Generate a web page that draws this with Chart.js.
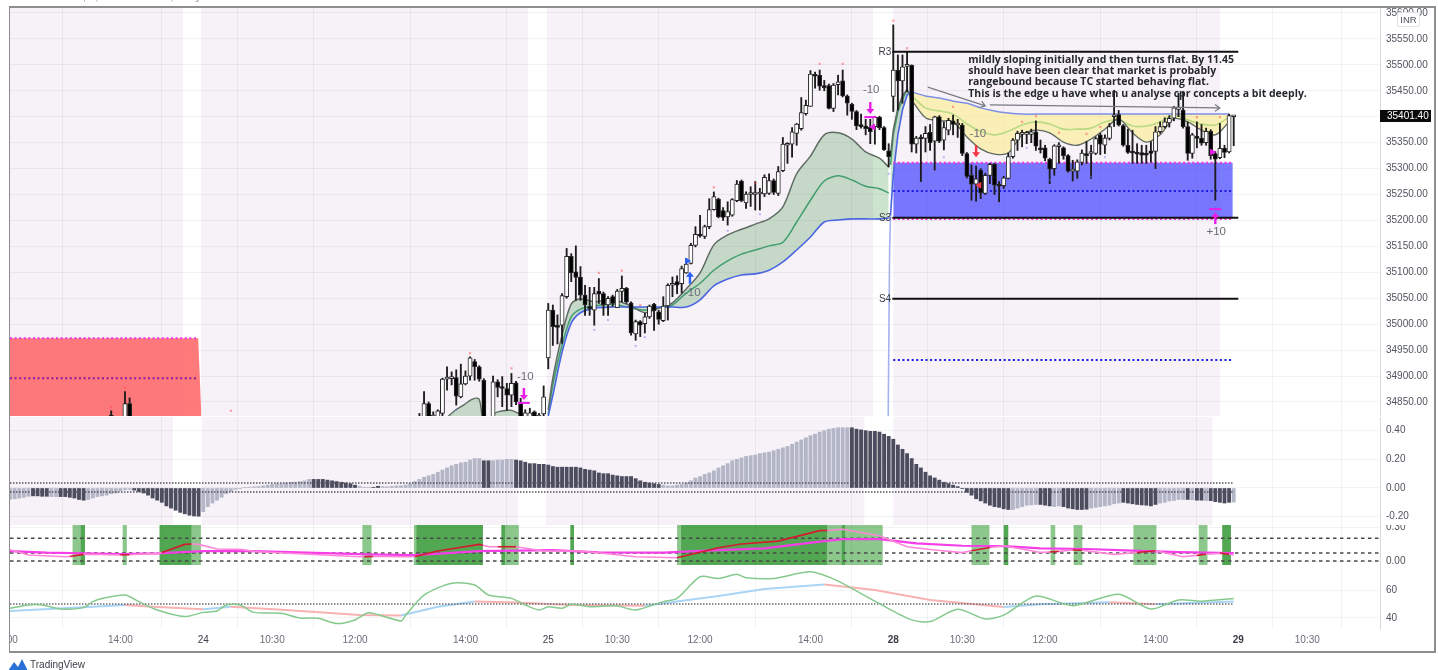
<!DOCTYPE html>
<html>
<head>
<meta charset="utf-8">
<title>BankNifty 5m</title>
<script src="https://cdn.jsdelivr.net/npm/chart.js@4/dist/chart.umd.min.js"></script>
<style>
    html, body { margin: 0; background: #fff; overflow: hidden; width: 1438px; height: 670px; }
    canvas { position: absolute; left: 10px; filter: blur(0.55px); }
    #frame { position: absolute; left: 9px; top: 6px; width: 1424px; height: 643px; border: 2px solid #8e8e8e; border-left-width: 1px; pointer-events: none; }
    #header { position: absolute; left: 12px; top: -10px; font: 11px "Liberation Sans", sans-serif; color: #8a8d96; white-space: nowrap; filter: blur(0.5px); }
    #header span { color: #f08a8a; }
    #inr { position: absolute; left: 1397px; top: 12px; width: 21px; height: 13px; background: #fff; border: 1px solid #e0e3eb; border-radius: 2px; font: 9.5px/13px "Liberation Sans", sans-serif; text-align: center; color: #50535e; filter: blur(0.4px); }
    #brand { position: absolute; left: 8px; top: 658px; height: 12px; font: 10px/13px "Liberation Sans", sans-serif; color: #3a3d46; filter: blur(0.4px); }
    #brand svg { position: absolute; left: 0; top: 1px; }
    #brand b { position: absolute; left: 22px; font-weight: normal; white-space: nowrap; }
</style>
</head>
<body>
<div id="header">BANKNIFTY1!, 5, NSE &nbsp;0 &nbsp;Close, Daily <span>O35400.00 H35402.00 L35344.00 C35401.40</span></div>
<canvas id="priceChart" width="1425" height="409" style="top:7px"></canvas>
<canvas id="histChart" width="1425" height="108" style="top:417px"></canvas>
<canvas id="stochChart" width="1425" height="40" style="top:525px"></canvas>
<canvas id="rsiChart" width="1425" height="86" style="top:565px"></canvas>
<div id="inr">INR</div>
<div id="frame"></div>
<div id="brand">
    <svg width="20" height="12" viewBox="0 0 20 12"><path d="M0 12 L6 3 L10 8 L14 0 L20 12 Z" fill="#2a6fd6"/></svg>
    <b>TradingView</b>
</div>

<script>
const tickBars = [-1, 24, 42, 57, 75, 99, 117, 132, 150, 174, 192, 207, 225, 249, 267, 282];
const tickLabels = ['12:00', '14:00', '24', '10:30', '12:00', '14:00', '25', '10:30', '12:00', '14:00', '28', '10:30', '12:00', '14:00', '29', '10:30'];
const priceTicks = [34850, 34900, 34950, 35000, 35050, 35100, 35150, 35200, 35250, 35300, 35350, 35400, 35450, 35500, 35550, 35600];
const histTicks = [-0.2, 0, 0.2, 0.4];
const stochTicks = [0, 0.3];
const rsiTicks = [40, 60];
const lastPrice = 35401.40;

const earlyBars = [22, 25, 26];
const earlyOpen = [34825, 34800, 34847];
const earlyHigh = [34833, 34870, 34858];
const earlyLow = [34790, 34790, 34790];
const earlyClose = [34810, 34847, 34800];

// bars 89 to 116
const open24 = [34800, 34800, 34847, 34815, 34800, 34828, 34894, 34895, 34897, 34860, 34885, 34900, 34928, 34918, 34892, 34790, 34810, 34889, 34879, 34876, 34863, 34887, 34847, 34810, 34815, 34831, 34815, 34827];
const high24 = [34828, 34870, 34850, 34831, 34835, 34896, 34918, 34908, 34912, 34923, 34910, 34937, 34932, 34920, 34895, 34800, 34900, 34893, 34899, 34886, 34905, 34890, 34857, 34835, 34838, 34833, 34828, 34881];
const low24 = [34790, 34790, 34790, 34790, 34790, 34815, 34873, 34883, 34844, 34858, 34883, 34892, 34892, 34890, 34790, 34770, 34800, 34860, 34841, 34834, 34841, 34845, 34810, 34805, 34810, 34810, 34810, 34815];
const close24 = [34815, 34847, 34800, 34825, 34833, 34894, 34896, 34896, 34861, 34885, 34900, 34935, 34918, 34894, 34800, 34780, 34889, 34878, 34876, 34863, 34886, 34850, 34815, 34829, 34829, 34815, 34825, 34860];

// bars 117 to 191
const open25 = [34935, 35027, 34998, 34998, 35053, 35131, 35101, 35091, 35056, 35034, 35027, 35064, 35059, 35037, 35053, 35032, 35063, 35069, 35041, 34981, 35005, 35001, 35014, 35039, 35024, 35007, 35035, 35075, 35082, 35078, 35099, 35117, 35152, 35172, 35169, 35188, 35221, 35241, 35219, 35207, 35210, 35238, 35276, 35234, 35250, 35250, 35251, 35251, 35252, 35277, 35252, 35296, 35345, 35347, 35368, 35377, 35406, 35420, 35481, 35480, 35459, 35460, 35416, 35462, 35469, 35440, 35424, 35410, 35383, 35382, 35380, 35381, 35399, 35379, 35334];
const high25 = [35040, 35037, 35018, 35059, 35146, 35136, 35151, 35111, 35075, 35071, 35071, 35088, 35062, 35053, 35056, 35067, 35093, 35071, 35043, 35008, 35007, 35021, 35037, 35040, 35027, 35053, 35078, 35091, 35093, 35112, 35127, 35156, 35188, 35210, 35191, 35242, 35255, 35243, 35225, 35236, 35242, 35277, 35278, 35255, 35265, 35275, 35262, 35288, 35290, 35280, 35304, 35360, 35350, 35379, 35387, 35437, 35432, 35489, 35486, 35490, 35470, 35463, 35464, 35480, 35490, 35442, 35426, 35412, 35405, 35395, 35395, 35401, 35401, 35381, 35348];
const low25 = [34914, 34959, 34962, 34963, 35050, 35082, 35046, 35046, 35017, 35017, 34998, 35040, 35017, 35017, 35034, 35032, 35043, 35040, 34979, 34969, 34976, 34983, 35011, 34988, 35000, 35005, 35008, 35053, 35059, 35060, 35098, 35116, 35149, 35168, 35165, 35184, 35220, 35205, 35200, 35191, 35208, 35236, 35236, 35223, 35227, 35220, 35220, 35246, 35250, 35250, 35248, 35294, 35310, 35322, 35345, 35374, 35403, 35420, 35455, 35451, 35450, 35415, 35410, 35442, 35438, 35403, 35395, 35375, 35378, 35365, 35348, 35347, 35375, 35335, 35303];
const close25 = [35027, 34995, 34994, 35055, 35131, 35099, 35090, 35056, 35037, 35030, 35059, 35058, 35037, 35050, 35040, 35064, 35069, 35043, 34983, 35005, 34998, 35014, 35035, 35026, 35009, 35035, 35075, 35078, 35075, 35107, 35116, 35152, 35173, 35170, 35188, 35221, 35246, 35207, 35206, 35217, 35240, 35270, 35238, 35251, 35253, 35253, 35253, 35283, 35277, 35254, 35294, 35347, 35348, 35371, 35386, 35408, 35422, 35482, 35478, 35459, 35456, 35416, 35461, 35467, 35440, 35426, 35410, 35382, 35381, 35377, 35371, 35399, 35379, 35336, 35323];

// bars 192 to 266
const open28 = [35439, 35490, 35469, 35497, 35499, 35347, 35359, 35358, 35370, 35353, 35400, 35355, 35374, 35392, 35384, 35384, 35329, 35287, 35270, 35297, 35252, 35287, 35308, 35268, 35267, 35281, 35323, 35355, 35366, 35366, 35366, 35371, 35340, 35340, 35318, 35300, 35342, 35340, 35325, 35295, 35295, 35312, 35329, 35329, 35329, 35365, 35345, 35358, 35400, 35404, 35383, 35345, 35332, 35331, 35331, 35330, 35334, 35333, 35371, 35381, 35388, 35397, 35414, 35413, 35381, 35329, 35362, 35359, 35350, 35372, 35329, 35321, 35339, 35332, 35400];
const high28 = [35577, 35519, 35519, 35524, 35500, 35362, 35365, 35381, 35385, 35401, 35402, 35390, 35397, 35403, 35395, 35387, 35331, 35307, 35305, 35300, 35291, 35310, 35310, 35275, 35285, 35330, 35358, 35372, 35374, 35372, 35376, 35392, 35355, 35345, 35320, 35346, 35350, 35342, 35327, 35316, 35317, 35336, 35352, 35345, 35361, 35368, 35365, 35387, 35451, 35412, 35385, 35376, 35374, 35348, 35345, 35345, 35352, 35381, 35390, 35398, 35402, 35420, 35445, 35448, 35390, 35368, 35390, 35385, 35378, 35375, 35333, 35387, 35345, 35405, 35402];
const low28 = [35410, 35413, 35426, 35448, 35332, 35330, 35275, 35332, 35335, 35297, 35350, 35336, 35365, 35365, 35360, 35325, 35282, 35239, 35237, 35242, 35250, 35271, 35250, 35236, 35262, 35280, 35320, 35335, 35342, 35348, 35350, 35335, 35330, 35315, 35271, 35287, 35310, 35318, 35293, 35276, 35281, 35307, 35310, 35281, 35327, 35327, 35329, 35355, 35381, 35382, 35343, 35329, 35310, 35310, 35310, 35310, 35312, 35300, 35368, 35378, 35380, 35392, 35400, 35378, 35316, 35320, 35340, 35345, 35345, 35318, 35239, 35319, 35321, 35330, 35344];
const close28 = [35490, 35469, 35496, 35500, 35347, 35359, 35357, 35368, 35350, 35400, 35353, 35379, 35393, 35385, 35387, 35329, 35285, 35270, 35280, 35253, 35287, 35308, 35268, 35266, 35282, 35323, 35355, 35368, 35369, 35368, 35371, 35343, 35336, 35320, 35299, 35344, 35346, 35325, 35295, 35298, 35313, 35330, 35325, 35332, 35358, 35347, 35359, 35381, 35402, 35384, 35345, 35331, 35330, 35328, 35326, 35326, 35329, 35371, 35381, 35390, 35397, 35417, 35417, 35381, 35329, 35365, 35358, 35349, 35372, 35325, 35318, 35339, 35331, 35402, 35401.40];

const humpOneBars = [95.3, 96.8, 98.6, 100.4, 101.9, 102.5, 103];
const humpOneTop = [34823, 34834, 34844, 34855, 34856, 34830, 34800];
const humpTwoBars = [104.6, 106, 108.8, 110.6, 111.7];
const humpTwoTop = [34823, 34831, 34834, 34828, 34823];

const bandBars25 = [117, 118, 120, 122, 124, 127, 131, 135, 138, 141, 144, 147, 150, 153, 156, 159, 162, 165, 168, 171, 174, 177, 180, 183, 186, 189, 191];
const upper25 = [34835, 34896, 34979, 35039, 35049, 35043, 35047, 35035, 35022, 35031, 35041, 35068, 35099, 35153, 35172, 35183, 35193, 35203, 35226, 35290, 35324, 35365, 35369, 35357, 35332, 35320, 35303];
const mid25 = [34827, 34883, 34960, 35014, 35029, 35035, 35039, 35031, 35027, 35031, 35037, 35060, 35079, 35104, 35122, 35135, 35143, 35151, 35158, 35197, 35239, 35276, 35286, 35278, 35266, 35261, 35253];
const lower25 = [34823, 34863, 34946, 35002, 35022, 35031, 35033, 35033, 35033, 35033, 35033, 35033, 35047, 35074, 35087, 35095, 35097, 35104, 35120, 35143, 35168, 35197, 35201, 35203, 35203, 35203, 35205];

const wedgeBars = [191.4, 192, 193, 194, 195, 196];
const wedgeUpper = [35326, 35374, 35417, 35440, 35453, 35432];
const wedgeMid = [35307, 35365, 35409, 35434, 35451, 35440];
const wedgeLower = [35210, 35288, 35365, 35413, 35442, 35448];
const stubBars = [190.9, 191.2, 191.4];
const stubPrices = [34823, 35143, 35210];

const bandBars28 = [196, 199, 202, 205, 208, 211, 214, 217, 220, 223, 226, 229, 232, 235, 238, 241, 244, 247, 250, 253, 256, 259, 262, 265];
const top28 = [35448, 35440, 35436, 35430, 35426, 35417, 35411, 35407, 35405, 35405, 35405, 35405, 35405, 35405, 35405, 35405, 35405, 35405, 35405, 35405, 35405, 35405, 35405, 35405];
const mid28 = [35440, 35417, 35411, 35405, 35386, 35372, 35365, 35372, 35384, 35390, 35386, 35376, 35376, 35378, 35390, 35394, 35382, 35382, 35390, 35403, 35394, 35386, 35384, 35399];
const bottom28 = [35432, 35398, 35392, 35390, 35361, 35338, 35328, 35330, 35365, 35374, 35369, 35351, 35345, 35357, 35376, 35396, 35369, 35351, 35365, 35396, 35390, 35374, 35365, 35390];

const redZoneBars = [0, 40.9, 41.6];
const redZoneTop = [34973, 34973, 34823];
const redPivotLevel = 34896;
const blueZoneBars = [192, 265.8];
const blueZoneTop = 35311;
const blueZoneBottom = 35205;
const bluePivotLevel = 35257;
const lowerPivotLevel = 34931;
const levelBars = [191.8, 267];
const r3Level = 35525;
const s3Level = 35205;
const s4Level = 35049;

const highBars = [22, 25, 48, 100, 109, 128, 133, 137, 153, 162, 176, 181, 192, 195, 205, 220, 223, 228, 234, 237, 258, 263];
const highMarks = [34840, 34877, 34833, 34944, 34915, 35099, 35103, 35037, 35264, 35272, 35502, 35502, 35585, 35532, 35419, 35390, 35401, 35369, 35367, 35380, 35399, 35399];
const lowBars = [97, 127, 130, 136, 138, 156, 163, 191, 198, 203, 215, 221, 226, 235, 238, 262];
const lowMarks = [34835, 34989, 35008, 34958, 34975, 35180, 35212, 35290, 35266, 35322, 35228, 35340, 35278, 35284, 35322, 35226];

const triangleBars = [147.2, 187.6, 210.7, 261.3];
const trianglePrices = [35122, 35380, 35268, 35332];
const triangleTurns = [90, -90, -90, 90];
const triangleColors = ['#2962ff', '#e91ee9', '#f23645', '#e91ee9'];

const arrowBars = [111.7, 187, 147.8, 210, 262];
const arrowTips = [34854, 35405, 35101, 35322, 35216];
const arrowDirs = [-1, -1, 1, -1, 1];
const arrowColors = ['#e91ee9', '#e91ee9', '#2962ff', '#f23645', '#e91ee9'];
const arrowFeet = [true, true, false, false, true];

const signalLabelBars = [112, 148.3, 187.2, 210.4, 262.2];
const signalLabelPrices = [34898, 35060, 35451, 35367, 35178];
const signalLabelTexts = ['-10', '-10', '-10', '-10', '+10'];

const pivotLabelBars = [190.2, 190.2, 190.2];
const pivotLabelPrices = [35525, 35205, 35049];
const pivotLabelTexts = ['R3', 'S3', 'S4'];

const noteBar = 208.3;
const notePrices = [35509, 35488, 35467, 35444];
const noteLines = [
    'mildly sloping initially and then turns flat. By 11.45',
    'should have been clear that market is probably',
    'rangebound because TC started behaving flat.',
    'This is the edge u have when u analyse cpr concepts a bit deeply.'
];
const trendBars = [[199.5, 212], [213, 263]];
const trendPrices = [[35457, 35421], [35423, 35417]];

const priceShade = [[0, 37.6], [41.5, 112.6], [116.7, 187.6], [192, 263]];
const histShade = [[0, 35.4], [41.7, 110.4], [116.5, 185.7], [192, 261.4]];

const histValues = [
    -.08, -.075, -.07, -.065, -.058, -.055, -.055, -.058, -.058, -.06,
    -.06, -.06, -.06, -.065, -.07, -.08, -.085, -.08, -.07, -.06,
    -.055, -.05, -.04, -.035, -.02, -.012, -.01, -.015, -.025, -.035,
    -.05, -.07, -.085, -.1, -.125, -.14, -.155, -.17, -.18, -.19,
    -.195, -.197, -.165, -.13, -.105, -.085, -.065, -.04, -.025, -.01,
    -.005, .002, .005, .008, .01, .015, .02, .025, .03, .03,
    .035, .04, .04, .045, .05, .06, .06, .06, .06, .055,
    .05, .045, .04, .035, .03, .02, .012, .005, .002, .005,
    .012, .01, .008, .012, .015, .015, .02, .03, .045, .06,
    .075, .085, .095, .11, .125, .14, .155, .165, .175, .18,
    .195, .205, .205, .19, .19, .19, .195, .195, .2, .2,
    .195, .19, .18, .17, .17, .165, .165, .16, .15, .145,
    .145, .145, .145, .145, .14, .13, .125, .12, .105, .1,
    .1, .09, .085, .08, .08, .08, .065, .05, .04, .035,
    .03, .025, .02, .015, .015, .02, .025, .035, .05, .07,
    .08, .095, .105, .12, .14, .155, .17, .19, .2, .21,
    .22, .225, .23, .24, .245, .25, .26, .27, .28, .29,
    .305, .32, .335, .35, .365, .375, .39, .4, .41, .415,
    .42, .42, .42, .42, .41, .405, .4, .395, .395, .39,
    .375, .36, .34, .3, .27, .24, .205, .165, .14, .11,
    .085, .07, .055, .04, .03, .02, .01, -.005, -.03, -.05,
    -.075, -.09, -.105, -.12, -.13, -.135, -.145, -.15, -.15, -.14,
    -.13, -.12, -.118, -.115, -.115, -.12, -.125, -.13, -.125, -.13,
    -.14, -.145, -.15, -.15, -.148, -.14, -.135, -.13, -.125, -.12,
    -.11, -.105, -.1, -.105, -.11, -.115, -.118, -.12, -.125, -.115,
    -.105, -.1, -.09, -.087, -.08, -.08, -.08, -.082, -.085, -.085,
    -.087, -.088, -.095, -.1, -.105, -.1, -.098
];
const histDarkRuns = [[5, 8], [11, 16], [27, 41], [66, 75], [79, 80], [103, 104], [110, 141], [183, 217], [224, 226], [229, 234], [242, 249], [256, 256], [258, 259], [261, 265]];
const histUpperLevel = 0.035;
const histLowerLevel = -0.028;
const levelEndBars = [0, 266];

const darkZones = [[15.3, 16.3], [32.5, 39.5], [88.3, 102.8], [106.8, 107.6], [121.8, 122.6], [145.8, 177.7], [180.7, 181.6], [216, 217], [263.5, 265.4]];
const lightZones = [[13.6, 15.3], [24.5, 25.4], [39.5, 41.5], [76.6, 78.6], [87.8, 88.3], [107.6, 110.6], [145, 145.8], [177.7, 180.7], [181.6, 189.7], [209, 212.9], [226.2, 227.2], [231.2, 233.1], [244.2, 249.2], [258.4, 260.3]];
const redRuns = [[13, 16], [24, 26], [33, 39.5], [77, 79], [88, 102.8], [106, 110], [145, 177.7], [209, 213], [226, 228], [231, 233], [245, 249], [258, 260], [263, 265]];
const dashedLevels = [0.2, 0.07, 0];
const dashedBars = [0, 297.8];

const fastBars = [0, 4, 12, 13, 16, 17, 24, 26, 32, 33, 38, 39.5, 41, 45, 50, 54, 76, 77, 79, 87, 88, 93, 102, 102.8, 104, 106, 110, 116, 124, 136, 145, 154, 159, 167, 176, 177.7, 181, 189, 195, 201, 207, 209, 213, 216, 224, 226, 228, 231, 233, 240, 245, 249, 255, 258, 260, 263, 265, 266];
const fastValues = [.1, .053, .038, .04, .059, .06, .053, .056, .068, .075, .147, .15, .147, .106, .103, .082, .038, .038, .04, .038, .04, .088, .147, .14, .126, .126, .126, .088, .088, .038, .029, .118, .15, .176, .268, .27, .28, .224, .126, .097, .074, .09, .12, .135, .076, .08, .085, .097, .095, .059, .075, .091, .038, .05, .06, .068, .06, .053];
const slowBars = [0, 8, 24, 32, 42, 53, 78, 88, 102, 118, 128, 142, 154, 164, 177, 181, 189, 197, 207, 216, 224, 234, 244, 254, 266];
const slowValues = [.088, .074, .062, .068, .088, .088, .059, .053, .088, .097, .076, .074, .097, .112, .176, .194, .194, .156, .135, .132, .112, .106, .091, .079, .071];

const rsiBars = [0, 4, 7, 11, 16, 18, 20, 25, 28, 32, 38, 42, 45, 47, 50, 53, 59, 63, 67, 71, 75, 78, 85, 86, 90, 96, 101, 104, 109, 112, 115, 117, 120, 122, 126, 132, 136, 142, 145, 150, 154, 158, 160, 166, 174, 180, 188, 196, 200, 206, 212, 216, 223, 231, 241, 248, 254, 259, 266];
const rsiValues = [46.9, 49.3, 49.3, 46.4, 47.4, 51.7, 54, 56.4, 51.7, 45.7, 41, 44, 45, 49.3, 49.3, 44, 43.3, 40, 39.8, 36, 38.6, 43.8, 37.9, 42, 56.4, 64.8, 63.6, 56.4, 54, 49.3, 45.7, 48, 46.9, 49.8, 48, 48.6, 45.7, 51.7, 54, 69.5, 68.3, 71.2, 68.8, 68.3, 73, 66.4, 52, 38.6, 37.4, 46.2, 39.3, 42, 55.7, 48.8, 56.9, 46.4, 52.9, 52, 54];
const rsiMaBars = [0, 18, 25, 31, 42, 48, 60, 76, 85, 93, 101, 110, 122, 138, 154, 164, 177, 188, 200, 216, 224, 239, 249, 266];
const rsiMaValues = [45, 48, 49.3, 48, 46.2, 48, 45.7, 42.1, 41.7, 48, 51.7, 51, 49.3, 48.8, 55.7, 60.7, 64, 60, 52.9, 47.9, 49.8, 51.2, 49.8, 51.7];
const rsiLevel = 50;

const GRID = 'rgba(42,46,57,0.06)';
const AXIS_FONT = '"Liberation Sans", sans-serif';
const AXIS_TEXT = '#50535e';
const LAST_BAR_EDGE = 297.8;

function points(xs, ys) {
    return xs.map((x, i) => ({ x: x, y: ys[i] }));
}

function flat(xs, level) {
    return xs.map(x => ({ x: x, y: level }));
}

function lineSet(data, color, width, extra) {
    return Object.assign({
        type: 'line',
        data: data,
        borderColor: color,
        borderWidth: width,
        pointRadius: 0,
        fill: false,
        order: 5
    }, extra || {});
}

function inRuns(runs, x) {
    return runs.some(r => x >= r[0] && x < r[1]);
}

function isDayTick(c) {
    return c.tick && !/:/.test(c.tick.label);
}

function isBoldTick(c) {
    return c.tick && (c.tick.label === '28' || c.tick.label === '29');
}

function dropPadding(s) {
    s.paddingTop = 0;
    s.paddingBottom = 0;
    s.paddingLeft = 0;
    s.paddingRight = 0;
}

function shadePlugin(ranges, color) {
    return {
        id: 'shade' + color.slice(1),
        beforeDraw(chart) {
            const a = chart.chartArea;
            const x = chart.scales.x;
            chart.ctx.save();
            chart.ctx.fillStyle = color;
            ranges.forEach(r => {
                const left = x.getPixelForValue(r[0]);
                chart.ctx.fillRect(left, a.top, x.getPixelForValue(r[1]) - left, a.bottom - a.top);
            });
            chart.ctx.restore();
        }
    };
}

function buildScales(yMin, yMax, yTicks, yFormat, xHeight) {
    return {
        x: {
            type: 'linear',
            min: 0,
            max: LAST_BAR_EDGE,
            offset: false,
            afterBuildTicks: s => { s.ticks = tickBars.map(v => ({ value: v })); },
            afterFit: s => { s.height = xHeight; dropPadding(s); },
            border: { display: false },
            grid: { color: GRID, drawTicks: false },
            ticks: {
                display: xHeight > 0,
                autoSkip: false,
                maxRotation: 0,
                padding: 5,
                color: c => (isDayTick(c) ? '#3a3d46' : '#6a6d78'),
                font: c => ({ family: AXIS_FONT, size: 10, weight: isBoldTick(c) ? 'bold' : 'normal' }),
                callback: (v, i) => tickLabels[i]
            }
        },
        y: {
            position: 'right',
            min: yMin,
            max: yMax,
            afterBuildTicks: s => { s.ticks = yTicks.map(v => ({ value: v })); },
            afterFit: s => { s.width = 55; dropPadding(s); },
            border: { color: '#d6d8de' },
            grid: { color: GRID, drawTicks: false },
            ticks: {
                padding: 6,
                color: AXIS_TEXT,
                font: { family: AXIS_FONT, size: 10 },
                callback: yFormat
            }
        }
    };
}

function makeChart(id, datasets, scales, plugins) {
    return new Chart(document.getElementById(id).getContext('2d'), {
        type: 'bar',
        data: { datasets: datasets },
        options: {
            responsive: false,
            animation: false,
            events: [],
            layout: { autoPadding: false, padding: 0 },
            plugins: { legend: { display: false }, tooltip: { enabled: false } },
            scales: scales
        },
        plugins: plugins
    });
}

// ---- price pane

const allOpen = earlyOpen.concat(open24, open25, open28);
const allHigh = earlyHigh.concat(high24, high25, high28);
const allLow = earlyLow.concat(low24, low25, low28);
const allClose = earlyClose.concat(close24, close25, close28);
const allBars = earlyBars.concat(open24.map((v, i) => 89 + i), open25.map((v, i) => 117 + i), open28.map((v, i) => 192 + i));

const wickData = allBars.map((x, i) => ({ x: x, y: [allLow[i], allHigh[i]] }));
const bodyData = allBars.map((x, i) => ({ x: x, y: [Math.min(allOpen[i], allClose[i]), Math.max(allOpen[i], allClose[i])] }));
const bodyFill = allBars.map((x, i) => (allClose[i] >= allOpen[i] ? '#ffffff' : '#000000'));

const GREEN_FILL = 'rgba(72,155,80,0.28)';
const YELLOW_FILL = 'rgba(252,238,140,0.6)';
const DARK_LINE = '#5f6b62';
const MID_LINE = '#3f9f7c';
const BLUE_LINE = '#4a66e0';

// fills between band lines look up the neighbour dataset by index, so keep these first
const priceSets = [
    lineSet(points(redZoneBars, redZoneTop), 'rgba(0,0,0,0)', 0, { fill: { value: 34700 }, backgroundColor: 'rgba(255,82,82,0.76)', order: 9 }),
    lineSet(flat(blueZoneBars, blueZoneTop), 'rgba(0,0,0,0)', 0, { fill: { value: blueZoneBottom }, backgroundColor: 'rgba(70,70,255,0.72)', order: 9 }),
    lineSet(points(humpOneBars, humpOneTop), DARK_LINE, 1.4, { fill: { value: 34700 }, backgroundColor: GREEN_FILL, tension: 0.3, order: 8 }),
    lineSet(points(humpTwoBars, humpTwoTop), DARK_LINE, 1.4, { fill: { value: 34700 }, backgroundColor: GREEN_FILL, tension: 0.3, order: 8 }),
    lineSet(points(bandBars25, lower25), BLUE_LINE, 1.6, { tension: 0.3, order: 7 }),
    lineSet(points(bandBars25, upper25), DARK_LINE, 1.5, { fill: '-1', backgroundColor: GREEN_FILL, tension: 0.3, order: 7 }),
    lineSet(points(bandBars25, mid25), MID_LINE, 1.5, { tension: 0.3, order: 7 }),
    lineSet(points(wedgeBars, wedgeLower), BLUE_LINE, 1.6, { order: 7 }),
    lineSet(points(wedgeBars, wedgeUpper), DARK_LINE, 1.5, { fill: '-1', backgroundColor: GREEN_FILL, order: 7 }),
    lineSet(points(wedgeBars, wedgeMid), MID_LINE, 1.5, { order: 7 }),
    lineSet(points(stubBars, stubPrices), '#a4b2f0', 1.6, { order: 7 }),
    lineSet(points(bandBars28, top28), '#7d8fe6', 1.5, { tension: 0.2, order: 7 }),
    lineSet(points(bandBars28, bottom28), DARK_LINE, 1.3, { fill: '-1', backgroundColor: YELLOW_FILL, tension: 0.3, order: 7 }),
    lineSet(points(bandBars28, mid28), '#58b878', 1.6, { tension: 0.3, order: 7 }),

    lineSet(flat([0, 41], redZoneTop[0]), '#f530e0', 2, { borderDash: [2, 2.6], order: 6 }),
    lineSet(flat([0, 41], redPivotLevel), '#8a1aa0', 2, { borderDash: [2, 2.6], order: 6 }),
    lineSet(flat(blueZoneBars, blueZoneTop), '#f530e0', 2, { borderDash: [2, 2.6], order: 6 }),
    lineSet(flat(blueZoneBars, bluePivotLevel), '#1a1ae0', 2, { borderDash: [2, 2.6], order: 6 }),
    lineSet(flat(blueZoneBars, lowerPivotLevel), '#1a1ae0', 2, { borderDash: [2, 2.6], order: 6 }),
    lineSet(flat(blueZoneBars, blueZoneBottom - 2), '#f530e0', 2, { borderDash: [2, 2.6], order: 6 }),

    { type: 'bar', data: wickData, barThickness: 1.2, backgroundColor: '#1c1c1c', grouped: false, order: 3 },
    { type: 'bar', data: bodyData, barThickness: 4.2, minBarLength: 2, backgroundColor: bodyFill, borderColor: '#262626', borderWidth: 1, borderSkipped: false, grouped: false, order: 2 },

    lineSet(flat(levelBars, r3Level), '#111', 2, { order: 1 }),
    lineSet(flat(levelBars, s3Level), '#111', 2, { order: 1 }),
    lineSet(flat(levelBars, s4Level), '#111', 2, { order: 1 }),

    { type: 'scatter', data: points(highBars, highMarks), pointStyle: 'rect', pointRadius: 1.5, backgroundColor: 'rgba(255,70,70,0.5)', borderWidth: 0, order: 0 },
    { type: 'scatter', data: points(lowBars, lowMarks), pointStyle: 'rect', pointRadius: 1.4, backgroundColor: 'rgba(90,110,255,0.45)', borderWidth: 0, order: 0 },
    { type: 'scatter', data: points(triangleBars, trianglePrices), pointStyle: 'triangle', pointRadius: 4, pointRotation: triangleTurns, pointBackgroundColor: triangleColors, pointBorderWidth: 0, order: 0 }
];

const annotationPlugin = {
    id: 'annotations',
    afterDatasetsDraw(chart) {
        const ctx = chart.ctx;
        const x = chart.scales.x;
        const y = chart.scales.y;
        ctx.save();

        arrowBars.forEach((bar, i) => {
            const px = x.getPixelForValue(bar);
            const tip = y.getPixelForValue(arrowTips[i]);
            const dir = arrowDirs[i];
            ctx.strokeStyle = arrowColors[i];
            ctx.fillStyle = arrowColors[i];
            ctx.lineWidth = 2.4;
            ctx.beginPath();
            ctx.moveTo(px, tip + dir * 4);
            ctx.lineTo(px, tip + dir * 12);
            ctx.stroke();
            ctx.beginPath();
            ctx.moveTo(px, tip);
            ctx.lineTo(px - 4, tip + dir * 5);
            ctx.lineTo(px + 4, tip + dir * 5);
            ctx.closePath();
            ctx.fill();
            if (arrowFeet[i]) {
                ctx.fillRect(px - 6, tip - dir * 3 - 1, 12, 2);
            }
        });

        ctx.strokeStyle = '#787b86';
        ctx.fillStyle = '#787b86';
        ctx.lineWidth = 1.2;
        trendBars.forEach((bars, i) => {
            const x0 = x.getPixelForValue(bars[0]);
            const x1 = x.getPixelForValue(bars[1]);
            const y0 = y.getPixelForValue(trendPrices[i][0]);
            const y1 = y.getPixelForValue(trendPrices[i][1]);
            const angle = Math.atan2(y1 - y0, x1 - x0);
            ctx.beginPath();
            ctx.moveTo(x0, y0);
            ctx.lineTo(x1, y1);
            ctx.moveTo(x1 - 6 * Math.cos(angle - 0.6), y1 - 6 * Math.sin(angle - 0.6));
            ctx.lineTo(x1, y1);
            ctx.lineTo(x1 - 6 * Math.cos(angle + 0.6), y1 - 6 * Math.sin(angle + 0.6));
            ctx.stroke();
        });

        ctx.textBaseline = 'middle';
        ctx.textAlign = 'center';
        ctx.font = '11.5px "Liberation Sans", sans-serif';
        ctx.fillStyle = '#6a6d78';
        signalLabelBars.forEach((bar, i) => {
            ctx.fillText(signalLabelTexts[i], x.getPixelForValue(bar), y.getPixelForValue(signalLabelPrices[i]));
        });

        ctx.fillStyle = '#3a3d46';
        ctx.font = '10px "Liberation Sans", sans-serif';
        pivotLabelBars.forEach((bar, i) => {
            ctx.fillText(pivotLabelTexts[i], x.getPixelForValue(bar), y.getPixelForValue(pivotLabelPrices[i]));
        });

        ctx.textAlign = 'left';
        ctx.fillStyle = '#26282f';
        ctx.font = '700 10.5px "Open Sans", sans-serif';
        noteLines.forEach((line, i) => {
            ctx.fillText(line, x.getPixelForValue(noteBar), y.getPixelForValue(notePrices[i]));
        });
        ctx.restore();
    },
    afterDraw(chart) {
        const ctx = chart.ctx;
        const a = chart.chartArea;
        const py = chart.scales.y.getPixelForValue(lastPrice);
        ctx.save();
        ctx.fillStyle = '#0a0a0a';
        ctx.fillRect(a.right, py - 6, 51, 12);
        ctx.fillStyle = '#ffffff';
        ctx.textBaseline = 'middle';
        ctx.font = '10px ' + AXIS_FONT;
        ctx.fillText(lastPrice.toFixed(2), a.right + 7, py + 0.5);
        ctx.restore();
    }
};

makeChart('priceChart', priceSets,
    buildScales(34823, 35611.5, priceTicks, v => v.toFixed(2), 0),
    [shadePlugin(priceShade, '#f7f1f8'), annotationPlugin]);

// ---- histogram pane

const histColors = histValues.map((v, i) => (histDarkRuns.some(r => i >= r[0] && i <= r[1]) ? '#4b4d5e' : '#b3b6c6'));

makeChart('histChart', [
    { type: 'bar', data: histValues.map((v, i) => ({ x: i, y: v })), barThickness: 3.2, backgroundColor: histColors, grouped: false, order: 3 },
    lineSet(flat(levelEndBars, histUpperLevel), '#55565f', 1.4, { borderDash: [1.5, 1.5], order: 1 }),
    lineSet(flat(levelEndBars, histLowerLevel), '#55565f', 1.4, { borderDash: [1.5, 1.5], order: 1 })
], buildScales(-0.258, 0.495, histTicks, v => v.toFixed(2), 0), [shadePlugin(histShade, '#f7f1f8')]);

// ---- stochastic pane

makeChart('stochChart', dashedLevels.map(level => lineSet(flat(dashedBars, level), '#4a4a4a', 1.5, { borderDash: [3.5, 3.5], order: 4 })).concat([
    lineSet(points(slowBars, slowValues), '#f53ee8', 2.2, { order: 2 }),
    lineSet(points(fastBars, fastValues), '#ff86d8', 1.6, {
        order: 1,
        segment: { borderColor: c => (inRuns(redRuns, c.p0.parsed.x) ? '#d41a2e' : '#ff86d8') }
    })
]), buildScales(-0.035, 0.318, stochTicks, v => v.toFixed(2), 0), [shadePlugin(lightZones, '#8cc78c'), shadePlugin(darkZones, '#52a852')]);

// ---- rsi pane

makeChart('rsiChart', [
    lineSet(points(rsiMaBars, rsiMaValues), '#a8d4f6', 2, {
        order: 3,
        segment: { borderColor: c => (c.p1.parsed.y < c.p0.parsed.y ? '#f8b2b2' : '#a8d4f6') }
    }),
    lineSet(flat(levelEndBars, rsiLevel), '#6a6a70', 1.6, { borderDash: [1.5, 1.5], order: 2 }),
    lineSet(points(rsiBars, rsiValues), '#86c98c', 1.5, { tension: 0.25, order: 1 })
], buildScales(32.1, 77.9, rsiTicks, v => String(v), 22), []);
</script>
</body>
</html>
